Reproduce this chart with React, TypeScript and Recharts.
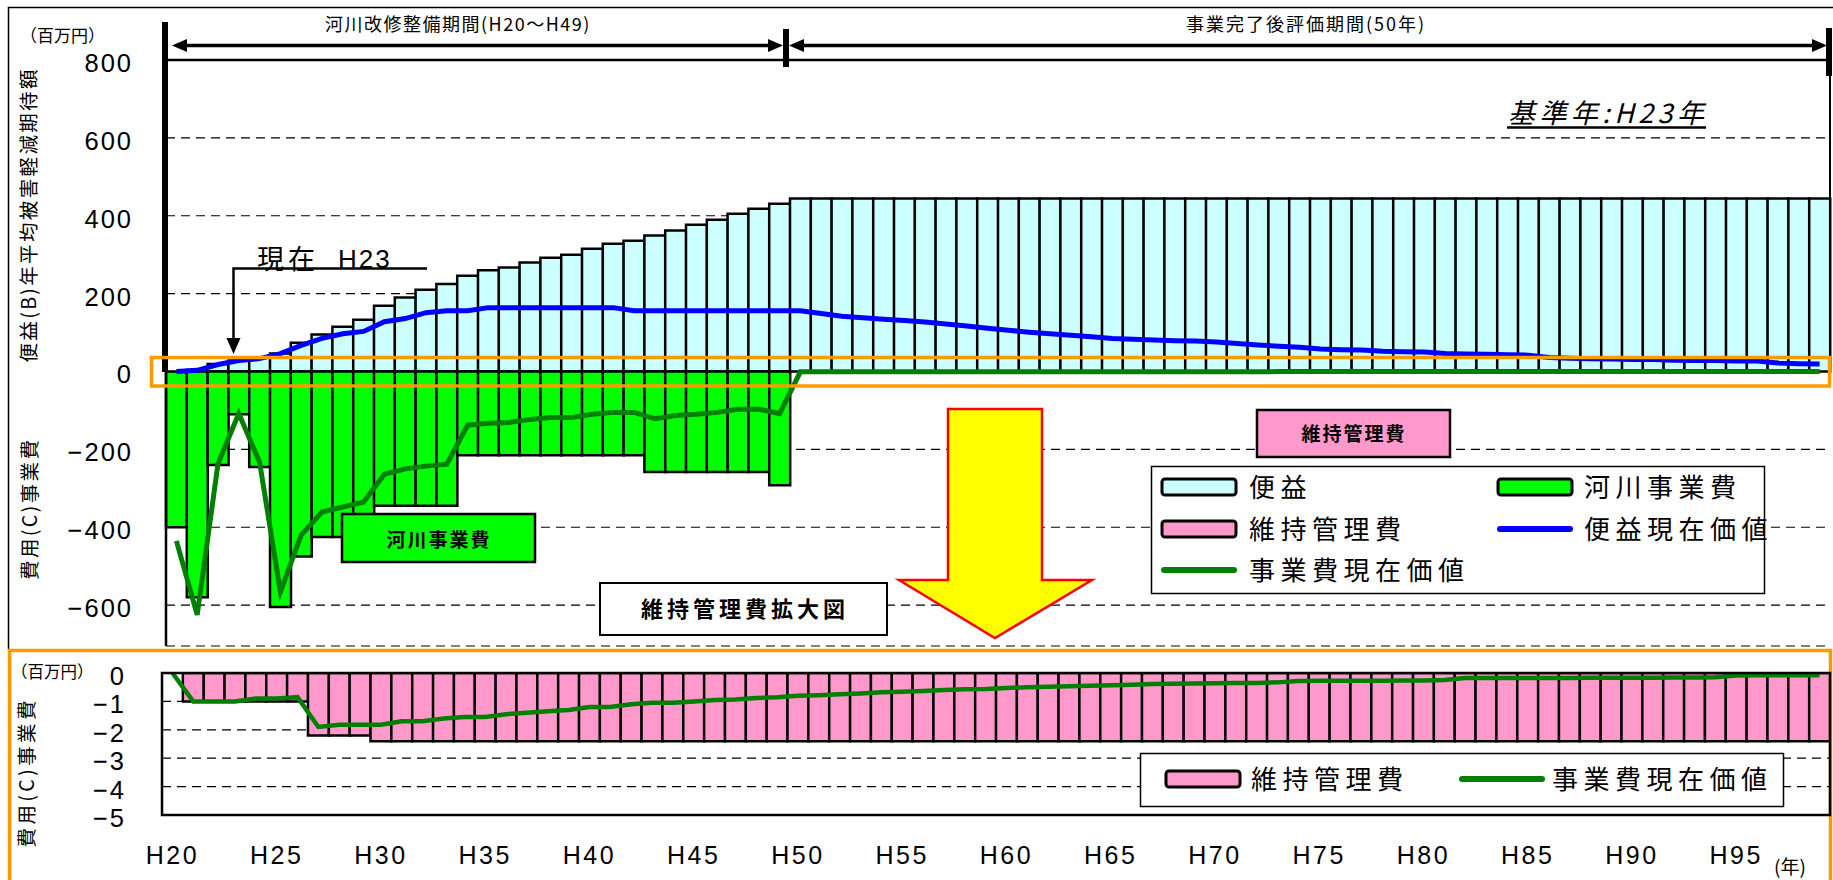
import React from 'react';
import { ComposedChart, Bar, Line, XAxis, YAxis, CartesianGrid } from 'recharts';

// ---- categories & ticks ----
const years: string[] = Array.from({ length: 80 }, (_, i) => `H${20 + i}`);
const xTickLabels = ['H20', 'H25', 'H30', 'H35', 'H40', 'H45', 'H50', 'H55', 'H60', 'H65', 'H70', 'H75', 'H80', 'H85', 'H90', 'H95'];
const topTicks = [-600, -400, -200, 0, 200, 400, 600, 800];
const bottomTicks = [0, -1, -2, -3, -4, -5];

// ---- 便益 (百万円/年), H20–H99 ----
const benefit = [
  0, 4, 19, 28, 35, 46, 74, 95, 115, 133,
  169, 190, 210, 225, 246, 260, 267, 280, 292, 300,
  315, 328, 336, 349, 362, 377, 390, 405, 418, 431,
  444, 444, 444, 444, 444, 444, 444, 444, 444, 444,
  444, 444, 444, 444, 444, 444, 444, 444, 444, 444,
  444, 444, 444, 444, 444, 444, 444, 444, 444, 444,
  444, 444, 444, 444, 444, 444, 444, 444, 444, 444,
  444, 444, 444, 444, 444, 444, 444, 444, 444, 444,
];

// ---- 河川事業費 (百万円), H20–H99 ----
const riverCost = [
  -400, -580, -240, -110, -245, -605, -475, -425, -425, -425,
  -345, -345, -345, -345, -215, -215, -215, -215, -215, -215,
  -215, -215, -215, -258, -258, -258, -258, -258, -258, -292,
  0, 0, 0, 0, 0, 0, 0, 0, 0, 0,
  0, 0, 0, 0, 0, 0, 0, 0, 0, 0,
  0, 0, 0, 0, 0, 0, 0, 0, 0, 0,
  0, 0, 0, 0, 0, 0, 0, 0, 0, 0,
  0, 0, 0, 0, 0, 0, 0, 0, 0, 0,
];

// ---- 便益現在価値, H20–H99 ----
const benefitPV = [
  0, 3, 18, 28, 33, 46, 67, 85, 97, 103,
  128, 136, 151, 156, 156, 164, 164, 164, 164, 164,
  164, 164, 156, 156, 156, 156, 156, 156, 156, 156,
  156, 149, 142, 138, 134, 131, 127, 122, 117, 111,
  106, 101, 97, 93, 89, 85, 83, 81, 79, 78,
  76, 72, 68, 65, 62, 58, 56, 55, 52, 51,
  50, 46, 45, 44, 43, 42, 36, 34, 33, 32,
  31, 31, 29, 28, 28, 27, 27, 22, 20, 19,
];

// ---- 事業費現在価値 during the construction period, H20–H49 ----
const riverCostPV = [
  -435, -625, -237, -108, -233, -566, -420, -361, -348, -335,
  -264, -250, -243, -238, -138, -133, -131, -123, -118, -118,
  -110, -105, -105, -121, -113, -110, -105, -97, -97, -108,
];

// ---- 維持管理費 (百万円), H20–H99 ----
const maint = [
  0, -1, -1, -1, -1, -1, -1, -2.2, -2.2, -2.2,
  -2.4, -2.4, -2.4, -2.4, -2.4, -2.4, -2.4, -2.4, -2.4, -2.4,
  -2.4, -2.4, -2.4, -2.4, -2.4, -2.4, -2.4, -2.4, -2.4, -2.4,
  -2.4, -2.4, -2.4, -2.4, -2.4, -2.4, -2.4, -2.4, -2.4, -2.4,
  -2.4, -2.4, -2.4, -2.4, -2.4, -2.4, -2.4, -2.4, -2.4, -2.4,
  -2.4, -2.4, -2.4, -2.4, -2.4, -2.4, -2.4, -2.4, -2.4, -2.4,
  -2.4, -2.4, -2.4, -2.4, -2.4, -2.4, -2.4, -2.4, -2.4, -2.4,
  -2.4, -2.4, -2.4, -2.4, -2.4, -2.4, -2.4, -2.4, -2.4, -2.4,
];

// ---- 維持管理費の現在価値, H20–H99 ----
const maintPV = [
  0, -1.0, -1.0, -1.0, -0.9, -0.9, -0.85, -1.9, -1.82, -1.82,
  -1.82, -1.7, -1.7, -1.6, -1.55, -1.55, -1.45, -1.4, -1.35, -1.3,
  -1.2, -1.2, -1.1, -1.05, -1.05, -1.0, -0.95, -0.93, -0.88, -0.85,
  -0.8, -0.78, -0.75, -0.72, -0.68, -0.66, -0.63, -0.6, -0.57, -0.56,
  -0.53, -0.5, -0.48, -0.47, -0.45, -0.43, -0.41, -0.39, -0.38, -0.37,
  -0.36, -0.35, -0.35, -0.33, -0.28, -0.27, -0.27, -0.27, -0.27, -0.26,
  -0.26, -0.25, -0.18, -0.18, -0.18, -0.18, -0.18, -0.18, -0.17, -0.17,
  -0.17, -0.17, -0.16, -0.16, -0.15, -0.09, -0.08, -0.08, -0.08, -0.08,
];

const topData = years.map((year, i) => ({
  year,
  benefit: benefit[i],
  cost: riverCost[i],
  benefitPV: benefitPV[i],
  costPV: i < riverCostPV.length ? riverCostPV[i] : maintPV[i],
}));

const bottomData = years.map((year, i) => ({
  year,
  maint: maint[i],
  maintPV: maintPV[i],
}));

// ---- styles ----
const C_BENEFIT = '#CCFFFF';
const C_RIVER = '#00FF00';
const C_MAINT = '#FF99CC';
const C_BPV = '#0000FF';
const C_CPV = '#008000';
const C_ORANGE = '#FF9900';
const FONT_NUM = "'Liberation Sans', Arial, 'Noto Sans CJK JP', sans-serif";
const FONT_JP = "'Noto Sans CJK JP', 'Noto Sans CJK SC', sans-serif";

const fmtNum = (v: number) => String(v).replace('-', '\u2212');

const NumTick = (props: any) => {
  const { x, y, payload } = props;
  return (
    <text x={x} y={y} dy={12} textAnchor="end" fontSize={25.5} fontFamily={FONT_NUM} letterSpacing={2} fill="#000">
      {fmtNum(payload.value)}
    </text>
  );
};

const YearTick = (props: any) => {
  const { x, y, payload } = props;
  return (
    <text x={x} y={y} dy={19} textAnchor="middle" fontSize={25} fontFamily={FONT_NUM} letterSpacing={2.5} fill="#000">
      {payload.value}
    </text>
  );
};

const arrowHead = (tx: number, ty: number, dir: 'l' | 'r' | 'd', len: number, half: number) => {
  if (dir === 'l') return `${tx},${ty} ${tx + len},${ty - half} ${tx + len},${ty + half}`;
  if (dir === 'r') return `${tx},${ty} ${tx - len},${ty - half} ${tx - len},${ty + half}`;
  return `${tx},${ty} ${tx - half},${ty - len} ${tx + half},${ty - len}`;
};

const LegendSwatch = ({ x, y, fill }: { x: number; y: number; fill: string }) => (
  <rect x={x} y={y - 8} width={74} height={16} rx={3} fill={fill} stroke="#000" strokeWidth={3} />
);

const LegendLine = ({ x, y, w, color }: { x: number; y: number; w: number; color: string }) => (
  <line x1={x} y1={y} x2={x + w} y2={y} stroke={color} strokeWidth={6} strokeLinecap="round" />
);

const LegendText = ({ x, y, children }: { x: number; y: number; children: React.ReactNode }) => (
  <text x={x} y={y + 10} fontSize={26} fontFamily={FONT_JP} letterSpacing={5.5} fill="#000">
    {children}
  </text>
);

const Overlay = () => (
  <svg width={1833} height={880} style={{ position: 'absolute', left: 0, top: 0, pointerEvents: 'none' }}>
    {/* chart area border */}
    <path d="M8.5 649 V7.5 H1833" fill="none" stroke="#000" strokeWidth={1.5} />

    {/* evaluation periods */}
    <text x={325} y={31} fontSize={18} fontFamily={FONT_JP} letterSpacing={1.5} fill="#000">河川改修整備期間(H20～H49)</text>
    <text x={1186} y={31} fontSize={18} fontFamily={FONT_JP} letterSpacing={2} fill="#000">事業完了後評価期間(50年)</text>
    <line x1={180} y1={45.5} x2={776} y2={45.5} stroke="#000" strokeWidth={3.5} />
    <polygon points={arrowHead(172, 45.5, 'l', 15, 6.5)} fill="#000" />
    <polygon points={arrowHead(783, 45.5, 'r', 15, 6.5)} fill="#000" />
    <line x1={797} y1={45.5} x2={1820} y2={45.5} stroke="#000" strokeWidth={3.5} />
    <polygon points={arrowHead(789, 45.5, 'l', 15, 6.5)} fill="#000" />
    <polygon points={arrowHead(1827, 45.5, 'r', 15, 6.5)} fill="#000" />
    <line x1={786} y1={29} x2={786} y2={67} stroke="#000" strokeWidth={6} />
    <line x1={165} y1={22} x2={165} y2={372} stroke="#000" strokeWidth={6} />
    <line x1={1829} y1={28} x2={1829} y2={76} stroke="#000" strokeWidth={6} />
    <line x1={1830} y1={60} x2={1830} y2={373} stroke="#000" strokeWidth={2} />
    <line x1={166} y1={60} x2={1830} y2={60} stroke="#000" strokeWidth={2.5} />

    {/* base year note */}
    <text x={1508} y={123} fontSize={27} fontStyle="italic" fontFamily={FONT_JP} textLength={196} lengthAdjust="spacing" fill="#000">基準年:H23年</text>
    <line x1={1507} y1={127.5} x2={1706} y2={127.5} stroke="#000" strokeWidth={2.5} />

    {/* current year pointer */}
    <text x={257} y={269} fontSize={27} fontFamily={FONT_JP} letterSpacing={4} fill="#000">現在</text>
    <text x={338} y={268} fontSize={26} fontFamily={FONT_NUM} letterSpacing={2} fill="#000">H23</text>
    <polyline points="427,268.5 233.5,268.5 233.5,340" fill="none" stroke="#000" strokeWidth={2.5} />
    <polygon points={arrowHead(233.5, 354, 'd', 16, 7)} fill="#000" />

    {/* magnified band */}
    <rect x={151.5} y={357.5} width={1678} height={28.5} fill="none" stroke={C_ORANGE} strokeWidth={3.5} />

    {/* series captions */}
    <rect x={342} y={514} width={193} height={48} fill={C_RIVER} stroke="#000" strokeWidth={2.5} />
    <text x={439} y={547} textAnchor="middle" fontSize={19} fontWeight={700} fontFamily={FONT_JP} letterSpacing={2} fill="#000">河川事業費</text>
    <rect x={1257} y={410} width={193} height={47} fill={C_MAINT} stroke="#000" strokeWidth={2.5} />
    <text x={1354} y={441} textAnchor="middle" fontSize={19} fontWeight={700} fontFamily={FONT_JP} letterSpacing={2} fill="#000">維持管理費</text>

    <rect x={600} y={583} width={287} height={52} fill="#fff" stroke="#000" strokeWidth={2} />
    <text x={745} y={617} textAnchor="middle" fontSize={22} fontWeight={700} fontFamily={FONT_JP} letterSpacing={4} fill="#000">維持管理費拡大図</text>

    {/* arrow to the magnified chart */}
    <polygon points="948,409 1042,409 1042,580 1092,580 995,638 899,580 948,580" fill="#FFFF00" stroke="#FF0000" strokeWidth={2.5} />

    {/* upper legend */}
    <rect x={1151.5} y={466.5} width={613} height={127} fill="#fff" stroke="#000" strokeWidth={1.5} />
    <LegendSwatch x={1162} y={487} fill={C_BENEFIT} />
    <LegendText x={1249} y={487}>便益</LegendText>
    <LegendSwatch x={1498} y={487} fill={C_RIVER} />
    <LegendText x={1584} y={487}>河川事業費</LegendText>
    <LegendSwatch x={1162} y={529} fill={C_MAINT} />
    <LegendText x={1249} y={529}>維持管理費</LegendText>
    <LegendLine x={1500} y={529} w={70} color={C_BPV} />
    <LegendText x={1584} y={529}>便益現在価値</LegendText>
    <LegendLine x={1164} y={570} w={70} color={C_CPV} />
    <LegendText x={1249} y={570}>事業費現在価値</LegendText>

    {/* upper chart axis titles */}
    <text x={20} y={42} fontSize={17} fontFamily={FONT_JP} fill="#000">（百万円）</text>
    <text x={0} y={0} transform="translate(27,216) rotate(-90)" textAnchor="middle" dominantBaseline="central" fontSize={19.5} fontFamily={FONT_JP} textLength={293} lengthAdjust="spacing" fill="#000">便益(B)年平均被害軽減期待額</text>
    <text x={0} y={0} transform="translate(28,510) rotate(-90)" textAnchor="middle" dominantBaseline="central" fontSize={19.5} fontFamily={FONT_JP} textLength={140} lengthAdjust="spacing" fill="#000">費用(C)事業費</text>

    {/* lower panel */}
    <rect x={9.5} y={650.5} width={1821} height={240} fill="none" stroke={C_ORANGE} strokeWidth={3.5} />
    <rect x={162} y={673} width={1668} height={142} fill="none" stroke="#000" strokeWidth={2.5} />
    <text x={11} y={678} fontSize={16.5} fontFamily={FONT_JP} fill="#000">（百万円）</text>
    <text x={0} y={0} transform="translate(25,774) rotate(-90)" textAnchor="middle" dominantBaseline="central" fontSize={19.5} fontFamily={FONT_JP} textLength={147} lengthAdjust="spacing" fill="#000">費用(C)事業費</text>
    <text x={1774} y={874} fontSize={19} fontFamily={FONT_JP} fill="#000">(年)</text>

    {/* lower legend */}
    <rect x={1140.5} y={753.5} width={643} height={53} fill="#fff" stroke="#000" strokeWidth={1.5} />
    <LegendSwatch x={1166} y={779} fill={C_MAINT} />
    <LegendText x={1251} y={779}>維持管理費</LegendText>
    <LegendLine x={1462} y={779} w={80} color={C_CPV} />
    <LegendText x={1552} y={779}>事業費現在価値</LegendText>
  </svg>
);

export default function App() {
  return (
    <div style={{ position: 'absolute', left: 0, top: 0, width: 1833, height: 880, background: '#fff', overflow: 'hidden' }}>
      <div style={{ position: 'absolute', left: 0, top: 0 }}>
        <ComposedChart
          width={1833}
          height={660}
          data={topData}
          margin={{ top: 60, right: 3, bottom: 14, left: 0 }}
          barCategoryGap={0}
          barGap={0}
          stackOffset="sign"
        >
          <CartesianGrid vertical={false} stroke="#000" strokeWidth={1.2} strokeDasharray="9 6" />
          <XAxis dataKey="year" hide />
          <YAxis
            width={166}
            domain={[-705, 800]}
            ticks={topTicks}
            interval={0}
            allowDataOverflow
            axisLine={{ stroke: '#000', strokeWidth: 2.5 }}
            tickLine={false}
            tickSize={0}
            tickMargin={33}
            tick={(p: any) => <NumTick {...p} />}
          />
          <Bar dataKey="benefit" name="便益" stackId="bc" fill={C_BENEFIT} stroke="#000" strokeWidth={2.5} isAnimationActive={false} />
          <Bar dataKey="cost" name="河川事業費" stackId="bc" fill={C_RIVER} stroke="#000" strokeWidth={2.5} isAnimationActive={false} />
          <Line type="linear" dataKey="benefitPV" name="便益現在価値" stroke={C_BPV} strokeWidth={5} dot={false} activeDot={false} isAnimationActive={false} />
          <Line type="linear" dataKey="costPV" name="事業費現在価値" stroke={C_CPV} strokeWidth={5} dot={false} activeDot={false} isAnimationActive={false} />
        </ComposedChart>
      </div>
      <div style={{ position: 'absolute', left: 0, top: 640 }}>
        <ComposedChart
          width={1833}
          height={240}
          data={bottomData}
          margin={{ top: 33, right: 3, bottom: 0, left: 0 }}
          barCategoryGap={0}
          barGap={0}
        >
          <CartesianGrid vertical={false} stroke="#000" strokeWidth={1.2} strokeDasharray="9 6" />
          <XAxis
            dataKey="year"
            height={65}
            ticks={xTickLabels}
            interval={0}
            axisLine={false}
            tickLine={false}
            tickSize={0}
            tickMargin={30}
            tick={(p: any) => <YearTick {...p} />}
          />
          <YAxis
            width={162}
            domain={[-5, 0]}
            ticks={bottomTicks}
            interval={0}
            allowDataOverflow
            axisLine={false}
            tickLine={false}
            tickSize={0}
            tickMargin={36}
            tick={(p: any) => <NumTick {...p} />}
          />
          <Bar dataKey="maint" name="維持管理費" fill={C_MAINT} stroke="#000" strokeWidth={2.5} isAnimationActive={false} />
          <Line type="linear" dataKey="maintPV" name="事業費現在価値" stroke={C_CPV} strokeWidth={4.5} dot={false} activeDot={false} isAnimationActive={false} />
        </ComposedChart>
      </div>
      <Overlay />
    </div>
  );
}
